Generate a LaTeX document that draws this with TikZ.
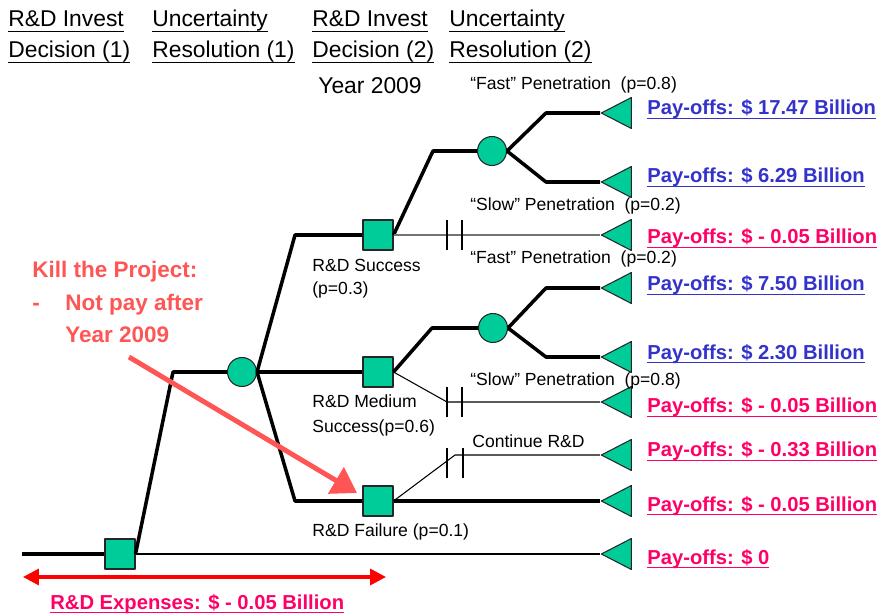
\documentclass[tikz,border=0pt]{standalone}
\usepackage{fontspec}
\setmainfont{Liberation Sans}
\usepackage{tikz}
\usetikzlibrary{arrows.meta,shapes.geometric}
\definecolor{mint}{HTML}{00CC99}
\definecolor{payblue}{HTML}{3333CC}
\definecolor{paypink}{HTML}{FF0066}
\definecolor{salmon}{HTML}{FF5555}
\definecolor{redd}{HTML}{FF0000}
\newcommand{\undl}[2][2.9pt]{\setbox0\hbox{#2}\rlap{\rule[-#1]{\wd0}{0.8pt}}\box0}
\newcommand{\payul}[1]{\undl[2.3pt]{#1}}

\begin{document}
\begin{tikzpicture}[x=0.02cm,y=-0.02cm,line join=round,>=Stealth,
  dec/.style={draw=black!85,fill=mint,minimum size=0.6cm,inner sep=0pt,line width=0.6pt},
  chance/.style={circle,draw=black!85,fill=mint,minimum size=0.58cm,inner sep=0pt,line width=0.6pt},
  term/.style={isosceles triangle,isosceles triangle stretches,shape border rotate=180,draw=black!85,fill=mint,
    minimum width=0.62cm,minimum height=0.6cm,inner sep=0pt,anchor=apex,line width=0.6pt},
  heavy/.style={line width=2pt},
  light/.style={line width=0.6pt},
  blocked/.style={line width=0.6pt},
  hd/.style={anchor=base west,inner sep=0pt,font=\fontsize{13}{15}\selectfont},
  lbl/.style={anchor=base west,inner sep=0pt,font=\fontsize{10}{12}\selectfont},
  pay/.style={anchor=base west,inner sep=0pt,font=\bfseries\fontsize{11.5}{14}\selectfont},
  kill/.style={anchor=base west,inner sep=0pt,text=salmon,font=\bfseries\fontsize{12.8}{15}\selectfont}]
  \useasboundingbox (0,0) rectangle (877,615);
  % stage headings
  \node[hd] (h1a) at (8,27) {\undl{R\&D Invest}};
  \node[hd] (h1b) at (8,58) {\undl{Decision (1)}};
  \node[hd] (h2a) at (152,27) {\undl{Uncertainty}};
  \node[hd] (h2b) at (152,58) {\undl{Resolution (1)}};
  \node[hd] (h3a) at (312,27) {\undl{R\&D Invest}};
  \node[hd] (h3b) at (312,58) {\undl{Decision (2)}};
  \node[hd] (h4a) at (449,27) {\undl{Uncertainty}};
  \node[hd] (h4b) at (449,58) {\undl{Resolution (2)}};
  \node[hd] (yr) at (318,94) {Year 2009};
  % decision and chance nodes
  \node[dec] (d1) at (120,554) {};
  \node[chance] (c1) at (242,372) {};
  \node[dec] (d2a) at (378,235) {};
  \node[dec] (d2b) at (378,372) {};
  \node[dec] (d2c) at (378,501) {};
  \node[chance] (c2a) at (492,151) {};
  \node[chance] (c2b) at (493,328) {};
  % end points
  \node[term] (t1) at (600,113) {};
  \node[term] (t2) at (600,182) {};
  \node[term] (t3) at (600,235) {};
  \node[term] (t4) at (600,288) {};
  \node[term] (t5) at (600,357) {};
  \node[term] (t6) at (600,402) {};
  \node[term] (t7) at (600,455) {};
  \node[term] (t8) at (600,501) {};
  \node[term] (t9) at (600,554) {};
  % corners of the branches
  \coordinate (root) at (22,554);
  \coordinate (k1) at (173,372);
  \coordinate (k2) at (295,235);
  \coordinate (k3) at (295,501);
  \coordinate (k4) at (433,151);
  \coordinate (k5) at (546,113);
  \coordinate (k6) at (546,182);
  \coordinate (k7) at (432,328);
  \coordinate (k8) at (546,288);
  \coordinate (k9) at (546,357);
  \coordinate (k10) at (447,402);
  \coordinate (k11) at (455,455);
  % branches
  \draw[heavy] (root) -- (d1.west);
  \draw[heavy] (d1.east) -- (k1) -- (c1.west);
  \draw[light] (d1.east) -- (t9.apex);
  \draw[heavy] (c1.east) -- (k2) -- (d2a.west);
  \draw[heavy] (c1.east) -- (d2b.west);
  \draw[heavy] (c1.east) -- (k3) -- (d2c.west);
  \draw[heavy] (d2a.east) -- (k4) -- (c2a.west);
  \draw[heavy] (c2a.east) -- (k5) -- (t1.apex);
  \draw[heavy] (c2a.east) -- (k6) -- (t2.apex);
  \draw[light,black!55] (d2a.east) -- (t3.apex);
  \draw[heavy] (d2b.east) -- (k7) -- (c2b.west);
  \draw[heavy] (c2b.east) -- (k8) -- (t4.apex);
  \draw[heavy] (c2b.east) -- (k9) -- (t5.apex);
  \draw[light] (d2b.east) -- (k10) -- (t6.apex);
  \draw[light] (d2c.east) -- (k11) -- (t7.apex);
  \draw[heavy] (d2c.east) -- (t8.apex);
  % blocked branches
  \draw[blocked] (447,220) -- (447,250) (462,220) -- (462,250);
  \draw[blocked] (447,387) -- (447,417) (462,387) -- (462,417);
  \draw[blocked] (447,448) -- (447,478) (463,448) -- (463,478);
  % branch labels
  \node[lbl] (ls1) at (312,272) {R\&D Success};
  \node[lbl] (ls2) at (312,295) {(p=0.3)};
  \node[lbl] (lm1) at (312,408) {R\&D Medium};
  \node[lbl] (lm2) at (312,433) {Success(p=0.6)};
  \node[lbl] (lf) at (312,537) {R\&D Failure (p=0.1)};
  \node[lbl] (pf1) at (470,90) {``Fast'' Penetration\ \ (p=0.8)};
  \node[lbl] (ps1) at (470,211) {``Slow'' Penetration\ \ (p=0.2)};
  \node[lbl] (pf2) at (470,264) {``Fast'' Penetration\ \ (p=0.2)};
  \node[lbl] (ps2) at (470,386) {``Slow'' Penetration\ \ (p=0.8)};
  \node[lbl] (cont) at (472,447) {Continue R\&D};
  % pay-offs
  \node[pay,text=payblue] (p1) at (647,115) {\payul{Pay-offs: \$ 17.47 Billion}};
  \node[pay,text=payblue] (p2) at (647,183) {\payul{Pay-offs: \$ 6.29 Billion}};
  \node[pay,text=paypink] (p3) at (647,244) {\payul{Pay-offs: \$ - 0.05 Billion}};
  \node[pay,text=payblue] (p4) at (647,291) {\payul{Pay-offs: \$ 7.50 Billion}};
  \node[pay,text=payblue] (p5) at (647,359) {\payul{Pay-offs: \$ 2.30 Billion}};
  \node[pay,text=paypink] (p6) at (647,413) {\payul{Pay-offs: \$ - 0.05 Billion}};
  \node[pay,text=paypink] (p7) at (647,457) {\payul{Pay-offs: \$ - 0.33 Billion}};
  \node[pay,text=paypink] (p8) at (647,511) {\payul{Pay-offs: \$ - 0.05 Billion}};
  \node[pay,text=paypink] (p9) at (647,564) {\payul{Pay-offs: \$ 0}};
  % kill note
  \node[kill] (kl1) at (32,277) {Kill the Project:};
  \node[kill] (kl2) at (32,311) {-};
  \node[kill] (kl3) at (65,311) {Not pay after};
  \node[kill] (kl4) at (65,343) {Year 2009};
  \coordinate (ks) at (129,357);
  \coordinate (ke) at (357,493);
  \draw[salmon,line width=2.8pt,-{Triangle[width=17pt,length=14pt]}] (ks) -- (ke);
  % expenses
  \coordinate (e1) at (23,577);
  \coordinate (e2) at (386,577);
  \draw[redd,line width=2pt,{Triangle[width=9pt,length=9pt]}-{Triangle[width=9pt,length=9pt]}] (e1) -- (e2);
  \node[pay,text=paypink] (exp) at (50,609) {\payul{R\&D Expenses: \$ - 0.05 Billion}};
\end{tikzpicture}
\end{document}
